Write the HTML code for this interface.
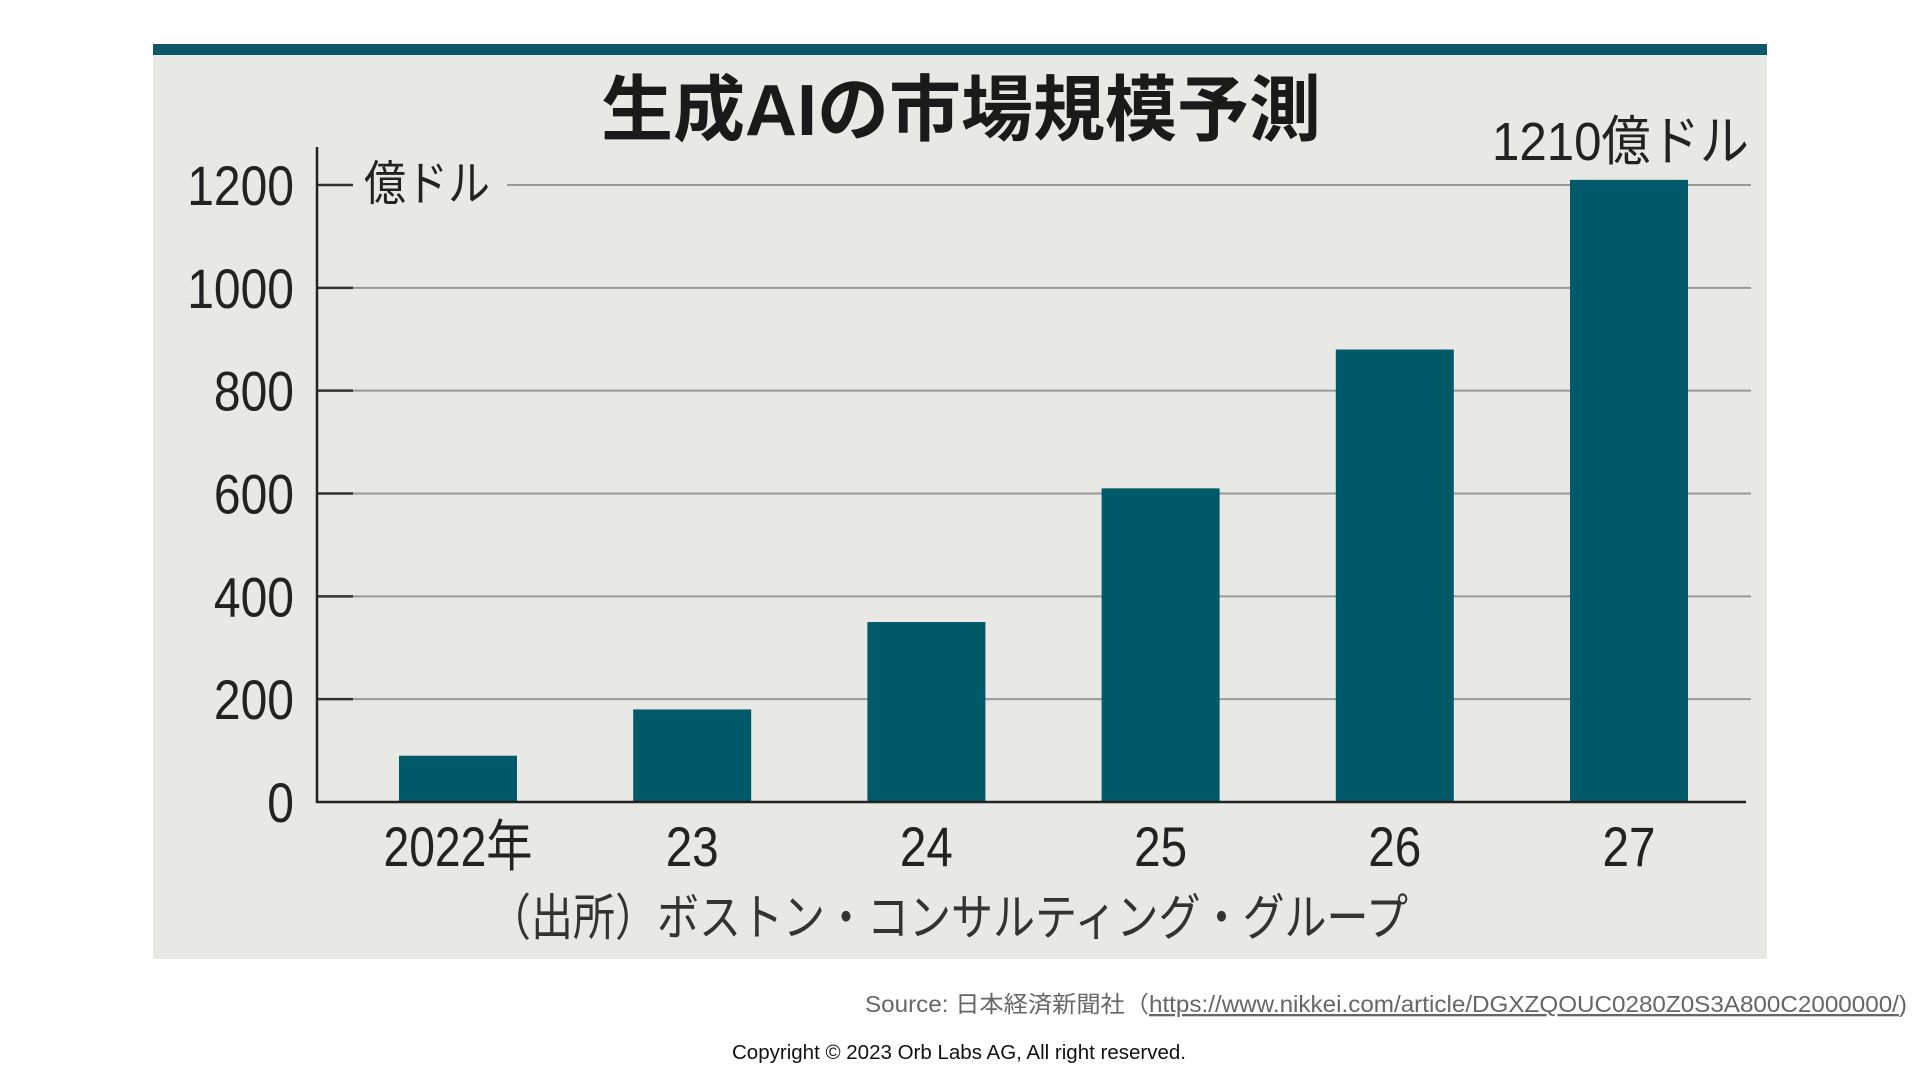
<!DOCTYPE html>
<html><head><meta charset="utf-8">
<style>
html,body{margin:0;padding:0;background:#fff;width:1920px;height:1080px;overflow:hidden;font-family:"Liberation Sans","Noto Sans CJK JP",sans-serif;}
svg text{font-family:"Liberation Sans","Noto Sans CJK JP",sans-serif;}
</style></head>
<body>
<svg id="chart" width="1920" height="1080" xmlns="http://www.w3.org/2000/svg">
<rect x="153" y="44" width="1614" height="915" fill="#e8e8e4"/>
<rect x="153" y="44" width="1614" height="11" fill="#0d5866"/>
<text x="961" y="135" font-size="72" font-weight="bold" fill="#1a1a1a" text-anchor="middle">生成AIの市場規模予測</text>
<g id="grid"></g>
<g id="bars"></g>
<g id="yticks"></g>
<g id="xticks"></g>
<line x1="317" y1="147" x2="317" y2="803" stroke="#222" stroke-width="2.5"/>
<line x1="316" y1="802" x2="1746" y2="802" stroke="#222" stroke-width="2.5"/>
<text x="364" y="200" font-size="48" fill="#222" textLength="126" lengthAdjust="spacingAndGlyphs">億ドル</text>
<text x="1492" y="160" font-size="54" fill="#222" textLength="257" lengthAdjust="spacingAndGlyphs">1210億ドル</text>
<text x="489" y="935" font-size="50" fill="#333" textLength="919" lengthAdjust="spacingAndGlyphs">（出所）ボストン・コンサルティング・グループ</text>
<text x="865" y="1012" font-size="23" fill="#666" textLength="1042" lengthAdjust="spacingAndGlyphs">Source: 日本経済新聞社（<tspan text-decoration="underline">https://www.nikkei.com/article/DGXZQOUC0280Z0S3A800C2000000/</tspan>)</text>
<text x="732" y="1059" font-size="20" fill="#111" textLength="454" lengthAdjust="spacingAndGlyphs">Copyright © 2023 Orb Labs AG, All right reserved.</text>
</svg>
<script>
const categories = ["2022年","23","24","25","26","27"];
const values = [90,180,350,610,880,1210];
const yTicks = [0,200,400,600,800,1000,1200];
const NS="http://www.w3.org/2000/svg";
const y0=802, pxPer=(802-185)/1200;
function yScale(v){return y0-v*pxPer;}
function xScale(i){return 458+i*234.2;}
function mk(tag,attrs,parent){const e=document.createElementNS(NS,tag);for(const k in attrs)e.setAttribute(k,attrs[k]);parent.appendChild(e);return e;}
const grid=document.getElementById('grid'),bars=document.getElementById('bars'),yt=document.getElementById('yticks'),xt=document.getElementById('xticks');
yTicks.forEach(t=>{
  const y=yScale(t);
  if(t>0){
    const g=mk('line',{x1:t===1200?507:353,y1:y,x2:1751,y2:y,stroke:'#999','stroke-width':2},grid);
    
    
    const tk=mk('line',{x1:317,y1:y,x2:353,y2:y,stroke:'#333','stroke-width':2.5},yt);
    
    
  }
  const s=String(t);
  const w=s.length*26.7;
  const lb=mk('text',{x:294-w,y:y+20,'font-size':56,fill:'#222',textLength:w,lengthAdjust:'spacingAndGlyphs'},yt);
  lb.textContent=s;
  
  
});
values.forEach((v,i)=>{
  const b=mk('rect',{x:xScale(i)-59,y:yScale(v),width:118,height:y0-yScale(v),fill:'#005a6a'},bars);
  
  
  const w=i===0?149:53;
  const l=mk('text',{x:xScale(i)-w/2,y:866,'font-size':56,fill:'#222',textLength:w,lengthAdjust:'spacingAndGlyphs'},xt);
  l.textContent=categories[i];
  
  
});
</script>
</body></html>
